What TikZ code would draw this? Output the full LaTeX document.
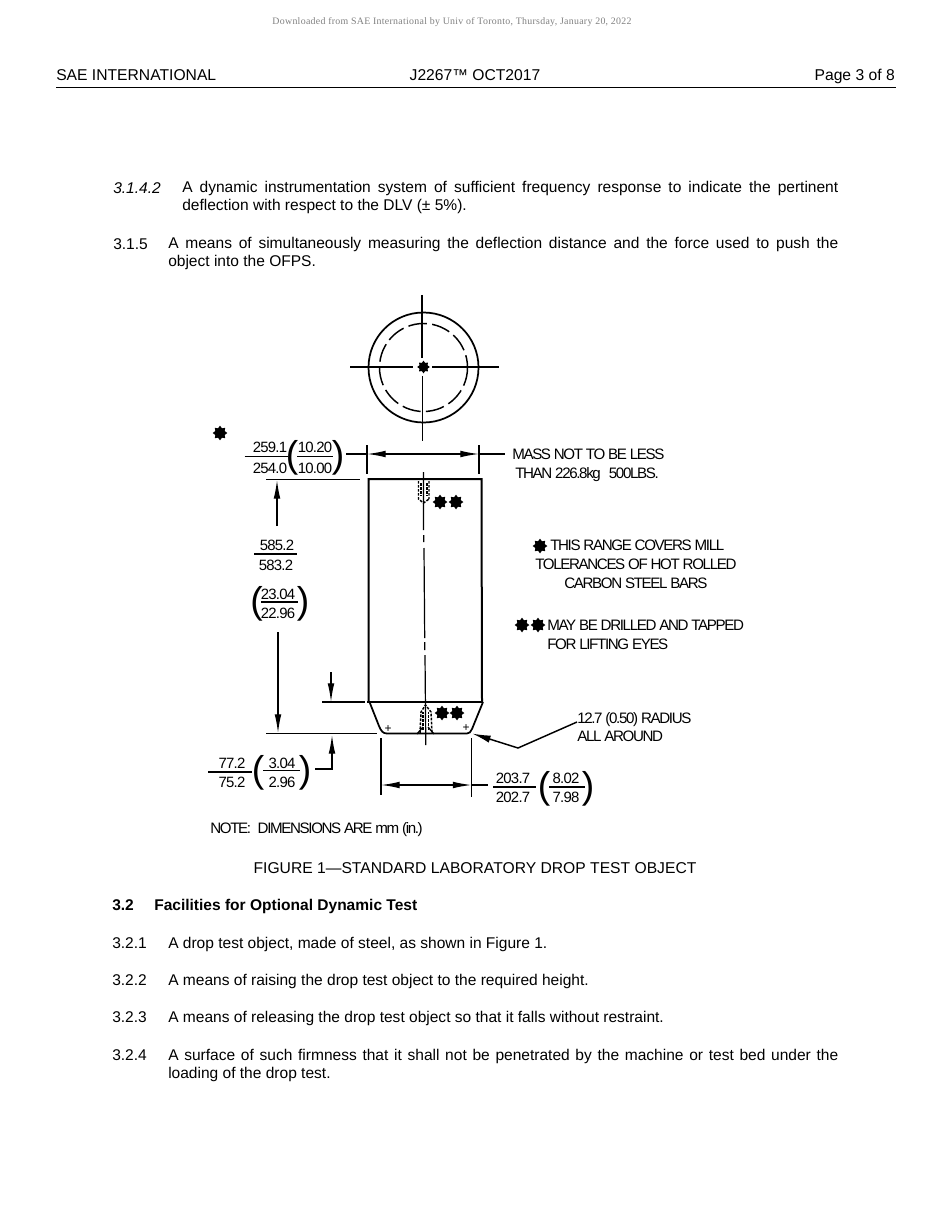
\documentclass[tikz,border=0pt]{standalone}
\usepackage{fontspec}
\usetikzlibrary{arrows.meta,shapes.geometric}
\setmainfont{Liberation Sans}
\newfontfamily\topfont[LetterSpace=3]{Liberation Serif}
\newfontfamily\figfont[LetterSpace=-9]{Liberation Sans}
\newfontfamily\numfont[LetterSpace=-5]{Liberation Sans}
\newcommand{\headsize}{\fontsize{11.75}{13.6}\selectfont}
\newcommand{\bodysize}{\fontsize{11.65}{13.6}\selectfont\hyphenpenalty=10000 }
\tikzset{
  x=0.75pt,y=-0.75pt,
  txt/.style={anchor=base west,inner sep=0pt,font=\bodysize},
  hdr/.style={anchor=base west,inner sep=0pt,font=\headsize},
  para/.style={anchor=north west,inner sep=0pt,font=\bodysize,align=justify},
  fg/.style={anchor=base west,inner sep=0pt,font=\figfont\fontsize{11.35}{13}\selectfont},
  num/.style={anchor=base,inner sep=0pt,font=\numfont\fontsize{11.2}{13}\selectfont},
  prn/.style={anchor=center,inner sep=0pt,font=\fontsize{28}{30}\selectfont},
  starmark/.style={star,star points=8,star point ratio=1.45,fill=black,draw=none,inner sep=0pt,minimum size=11pt},
  part/.style={line width=1.3pt},
  thin line/.style={line width=0.85pt},
  bar/.style={line width=1pt},
  dimhead/.style={-{Latex[length=14pt,width=5pt]},line width=0.95pt},
  dimboth/.style={{Latex[length=14pt,width=5pt]}-{Latex[length=14pt,width=5pt]},line width=0.95pt},
}
\begin{document}
\begin{tikzpicture}
\useasboundingbox (0,0) rectangle (950,1230);
% page header
\node[anchor=base,inner sep=0pt,text=black!50,font=\topfont\fontsize{7.4}{8}\selectfont] (dl) at (452,25) {Downloaded from SAE International by Univ of Toronto, Thursday, January 20, 2022};
\node[hdr] (h1) at (56,81) {SAE INTERNATIONAL};
\node[hdr,anchor=base] (h2) at (475,81) {J2267™ OCT2017};
\node[hdr,anchor=base east] (h3) at (895,81) {Page 3 of 8};
\draw[line width=0.75pt] (56,87.5) -- (896,87.5);
% upper paragraphs
\node[txt] (n1) at (113,193.5) {\itshape 3.1.4.2};
\node[para,text width=492pt] (p1) at (182,180.5) {A dynamic instrumentation system of sufficient frequency response to indicate the pertinent\linebreak deflection with respect to the DLV (± 5\%).};
\node[txt] (n2) at (113,249.5) {3.1.5};
\node[para,text width=502.5pt] (p2) at (168,236.5) {A means of simultaneously measuring the deflection distance and the force used to push the\linebreak object into the OFPS.};
% end view
\draw[part] (423.5,367.5) circle (55);
\draw[line width=1.1pt,dash pattern=on 14pt off 4pt] (423.5,367.5) circle (44);
\draw[line width=1.1pt] (350,367) -- (413,367) (432,367) -- (499,367);
\draw[line width=1.1pt] (422,295) -- (422,358) (422.5,376) -- (422.5,441);
\node[starmark,minimum size=9.5pt] (c0) at (423.5,367) {};
% body of test object
\draw[part,line width=1.5pt] (368.5,702) -- (368.5,479) -- (481.5,479) -- (482,702);
\draw[part,line width=1.8pt] (367,702) -- (483,702);
\draw[part] (369.5,702) -- (379,726) .. controls (381,731) and (383,733.5) .. (387,733.5) -- (467,733.5) .. controls (469,733.5) and (471,732) .. (472,729) -- (483,702);
% centre line
\draw[line width=0.9pt] (423.5,472) -- (423.5,530) (423.7,535) -- (423.7,542) (424,548) -- (424.7,638) (424.8,642) -- (424.8,650) (425,655) -- (425.8,745);
% threads
\draw[line width=1.1pt,dash pattern=on 2pt off 1pt] (418.5,481) -- (418.5,499) -- (423.5,503) -- (429,499) (429,481) -- (429,499);
\draw[line width=1.1pt,dash pattern=on 2pt off 1pt] (421,483) -- (421,496) (427,483) -- (427,496);
\draw[line width=1.1pt,dash pattern=on 2pt off 1pt] (420,733) -- (421,712) -- (425.5,705) -- (431,712) -- (432,733);
\draw[line width=1.1pt,dash pattern=on 2pt off 1pt] (423,730) -- (423,712) (428.5,730) -- (428.5,712);
\draw[line width=1pt] (417,734) -- (423,727) (434,734) -- (428,727);
% stars
\node[starmark] (s0) at (220,433) {};
\node[starmark] (s1) at (440,502) {};
\node[starmark] (s2) at (456,502) {};
\node[starmark] (s3) at (442,713) {};
\node[starmark] (s4) at (457,713) {};
\node[starmark] (s5) at (540,546) {};
\node[starmark] (s6) at (522,625) {};
\node[starmark] (s7) at (538,625) {};
% plus marks
\node[inner sep=0pt,font=\fontsize{9}{9}\selectfont] (pl1) at (388,729) {+};
\node[inner sep=0pt,font=\fontsize{9}{9}\selectfont] (pl2) at (466,728.5) {+};
% top width dimension
\draw[thin line] (367,445) -- (367,474) (479,445) -- (479,474);
\draw[thin line] (346,454) -- (367,454) (479,454) -- (505,454);
\draw[dimboth] (367,454) -- (479,454);
% length dimension
\draw[line width=1.1pt] (266,479.5) -- (360,479.5);
\draw[line width=1.1pt] (266,733.5) -- (377,733.5);
\draw[dimhead] (277,526) -- (277,480);
\draw[dimhead] (278,632) -- (278,733);
% chamfer dimension
\draw[line width=1.1pt] (322,702) -- (365,702);
\draw[dimhead] (331,672) -- (331,702);
\draw[dimhead] (315,769) -- (332,769) -- (332,735);
% bottom width dimension
\draw[thin line] (381,738) -- (381,795) (471.5,738) -- (471.5,797);
\draw[dimboth] (381,785) -- (471.5,785);
\draw[thin line] (471.5,785) -- (488,785);
% leader
\coordinate (ldA) at (577,722);
\coordinate (ldB) at (518,748);
\coordinate (ldC) at (472,733.5);
\draw[-{Latex[length=14pt,width=5.5pt]},line width=1.1pt] (ldA) -- (ldB) -- (ldC);
% label 1
\node[num] (a1) at (270,452) {259.1};
\node[num] (a2) at (270,473) {254.0};
\draw[bar] (244.5,456.5) -- (288,456.5);
\node[prn] (a3) at (292,458) {(};
\node[prn] (a4) at (338,458) {)};
\node[num] (a5) at (315,452) {10.20};
\node[num] (a6) at (315,473) {10.00};
\draw[bar] (297,456.5) -- (333,456.5);
% label 2
\node[num] (b1) at (277,550) {585.2};
\node[num] (b2) at (276,570) {583.2};
\draw[bar] (254,554) -- (297,554);
\node[prn] (b3) at (256.5,604) {(};
\node[prn] (b4) at (303,604) {)};
\node[num] (b5) at (278,599) {23.04};
\node[num] (b6) at (278,618) {22.96};
\draw[bar] (261,602) -- (298,602);
% label 3
\node[num] (c1) at (232,768) {77.2};
\node[num] (c2) at (232,787) {75.2};
\draw[bar] (208,772) -- (252,772);
\node[prn] (c3) at (258,773) {(};
\node[prn] (c4) at (305,773) {)};
\node[num] (c5) at (282,768) {3.04};
\node[num] (c6) at (282,787) {2.96};
\draw[bar] (263,770.5) -- (300,770.5);
% label 4
\node[num] (d1) at (513,783) {203.7};
\node[num] (d2) at (513,802) {202.7};
\draw[bar] (493,787) -- (536,787);
\node[prn] (d3) at (544,789) {(};
\node[prn] (d4) at (588,789) {)};
\node[num] (d5) at (566,783) {8.02};
\node[num] (d6) at (566,802) {7.98};
\draw[bar] (549,787) -- (585,787);
% notes
\node[fg] (t1) at (512,459.5) {MASS NOT TO BE LESS};
\node[fg] (t2) at (515,478.5) {THAN 226.8kg\hspace{6pt}500LBS.};
\node[fg] (t3) at (550,550.5) {THIS RANGE COVERS MILL};
\node[fg] (t4) at (535,569.5) {TOLERANCES OF HOT ROLLED};
\node[fg] (t5) at (564,588.5) {CARBON STEEL BARS};
\node[fg] (t6) at (547,630.5) {MAY BE DRILLED AND TAPPED};
\node[fg] (t7) at (547,649.5) {FOR LIFTING EYES};
\node[fg] (t8) at (577,723) {12.7 (0.50) RADIUS};
\node[fg] (t9) at (577,741.5) {ALL AROUND};
\node[fg] (t10) at (210,833) {NOTE:\hspace{5pt}DIMENSIONS ARE mm (in.)};
% caption and lower paragraphs
\node[hdr,anchor=base] (cap) at (475,873) {FIGURE 1—STANDARD LABORATORY DROP TEST OBJECT};
\node[txt,font=\bodysize\bfseries] (n3) at (112,910) {3.2};
\node[txt,font=\bodysize\bfseries] (n3t) at (154,910) {Facilities for Optional Dynamic Test};
\node[txt] (n4) at (112,948) {3.2.1};
\node[txt] (n4t) at (168,948) {A drop test object, made of steel, as shown in Figure 1.};
\node[txt] (n5) at (112,985) {3.2.2};
\node[txt] (n5t) at (168,985) {A means of raising the drop test object to the required height.};
\node[txt] (n6) at (112,1022) {3.2.3};
\node[txt] (n6t) at (168,1022) {A means of releasing the drop test object so that it falls without restraint.};
\node[txt] (n7) at (112,1060.5) {3.2.4};
\node[para,text width=502.5pt] (p7) at (168,1048.5) {A surface of such firmness that it shall not be penetrated by the machine or test bed under the\linebreak loading of the drop test.};
\end{tikzpicture}
\end{document}
